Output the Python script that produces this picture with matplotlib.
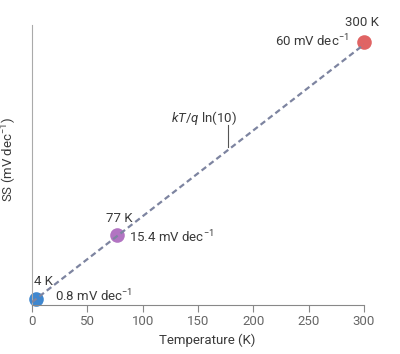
import matplotlib.pyplot as plt
import numpy as np

plt.rcParams['font.family'] = ['Roboto', 'DejaVu Sans']
plt.rcParams['mathtext.fontset'] = 'custom'
plt.rcParams['mathtext.rm'] = 'Roboto'
plt.rcParams['mathtext.it'] = 'Roboto:italic'

# data
temps = [4, 77, 300]
ss_vals = [0.8, 15.4, 60]
temp_labels = ['4 K', '77 K', '300 K']
ss_labels = ['0.8 mV $\\mathrm{dec}^{-1}$', '15.4 mV $\\mathrm{dec}^{-1}$', '60 mV $\\mathrm{dec}^{-1}$']
colors = ['#3f87cf', '#b274c2', '#e06464']
x_ticks = [0, 50, 100, 150, 200, 250, 300]

# kT/q ln(10) in mV
k_over_q = 0.08617  # mV/K
line_t = np.array([0, 300])
line_ss = k_over_q * np.log(10) * line_t

fs = 9.5
tc = '#3a3a3a'

fig = plt.figure(figsize=(4, 3.54), dpi=100)
ax = fig.add_axes([0.08, 0.138, 0.83, 0.791])

for t, s, c in zip(temps, ss_vals, colors):
    ax.plot(t, s, 'o', color=c, markersize=10.5, markeredgewidth=0, zorder=2, clip_on=False)
ax.plot(line_t, line_ss, linestyle=(0, (2.6, 1.6)), color='#7d84a0', lw=1.6, zorder=3)

# labels near points
ax.text(1.8, 4.8, temp_labels[0], fontsize=fs, color=tc, ha='left', va='center')
ax.text(20.5, 1.3, ss_labels[0], fontsize=fs, color=tc, ha='left', va='center')
ax.text(79, 19.4, temp_labels[1], fontsize=fs, color=tc, ha='center', va='center')
ax.text(88, 15.1, ss_labels[1], fontsize=fs, color=tc, ha='left', va='center')
ax.text(298, 64.7, temp_labels[2], fontsize=fs, color=tc, ha='center', va='center')
ax.text(286, 60.3, ss_labels[2], fontsize=fs, color=tc, ha='right', va='center')

# kT/q ln(10) annotation
ax.plot([177, 177], [35.8, 40.9], color='#555555', lw=0.8)
ax.text(155, 42.6, '$kT/q$ ln(10)', fontsize=fs, color=tc, ha='center', va='center')

ax.set_xlim(0, 300)
ax.set_ylim(-0.7, 64)
ax.set_xticks(x_ticks)
ax.set_yticks([])
ax.tick_params(axis='x', direction='out', length=5, width=0.8, color='#888888',
               labelsize=fs, labelcolor='#666666', pad=2)
ax.spines['top'].set_visible(False)
ax.spines['right'].set_visible(False)
ax.spines['left'].set_color('#aaaaaa')
ax.spines['bottom'].set_color('#888888')
ax.set_xlabel('Temperature (K)', fontsize=fs, color=tc)
ax.set_ylabel('SS (mV $\\mathrm{dec}^{-1}$)', fontsize=fs, color=tc)
ax.xaxis.set_label_coords(0.527, -0.102)
ax.yaxis.set_label_coords(-0.038, 0.52)

fig.savefig('out.png', dpi=100)
